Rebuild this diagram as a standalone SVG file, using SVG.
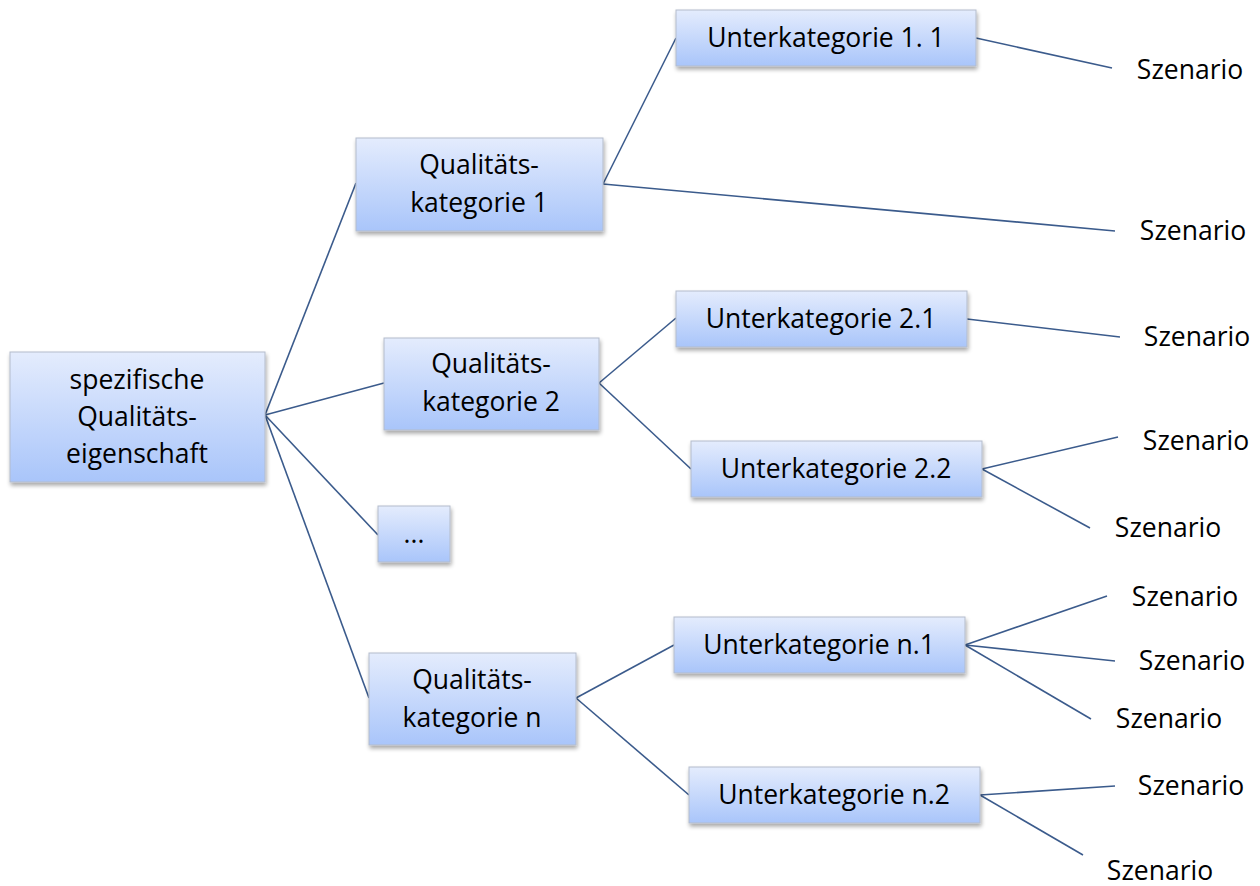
<svg xmlns="http://www.w3.org/2000/svg" width="1260" height="886" viewBox="0 0 1260 886">
<defs>
<linearGradient id="g" x1="0" y1="0" x2="0" y2="1">
<stop offset="0" stop-color="#e4ecfd"/>
<stop offset="1" stop-color="#a9c5fa"/>
</linearGradient>
<filter id="sh" x="-10%" y="-10%" width="130%" height="140%">
<feGaussianBlur in="SourceAlpha" stdDeviation="2"/>
<feOffset dx="1" dy="3"/>
<feComponentTransfer><feFuncA type="linear" slope="0.35"/></feComponentTransfer>
<feMerge><feMergeNode/><feMergeNode in="SourceGraphic"/></feMerge>
</filter>
</defs>
<style>
.box{fill:url(#g);stroke:#b4bccb;stroke-width:1;filter:url(#sh)}
text{font-family:"Open Sans","Liberation Sans",sans-serif;font-size:26.5px;fill:#000;text-anchor:middle}
.c line{stroke:#3b5b8c;stroke-width:1.6}
</style>
<rect width="1260" height="886" fill="#fff"/>
<g class="c" id="connectors">
<line x1="265" y1="415" x2="356" y2="183"/>
<line x1="265" y1="415" x2="384" y2="383"/>
<line x1="265" y1="415" x2="378" y2="535"/>
<line x1="265" y1="415" x2="369" y2="698"/>
<line x1="603" y1="184" x2="676" y2="38"/>
<line x1="603" y1="184" x2="1115" y2="231"/>
<line x1="976" y1="38" x2="1112" y2="68"/>
<line x1="599" y1="383" x2="676" y2="318"/>
<line x1="599" y1="383" x2="691" y2="469"/>
<line x1="967" y1="319" x2="1120" y2="337"/>
<line x1="982" y1="469" x2="1118" y2="437"/>
<line x1="982" y1="469" x2="1090" y2="528"/>
<line x1="576" y1="698" x2="674" y2="645"/>
<line x1="576" y1="698" x2="689" y2="795"/>
<line x1="965" y1="645" x2="1107" y2="596"/>
<line x1="965" y1="645" x2="1115" y2="661"/>
<line x1="965" y1="645" x2="1091" y2="719"/>
<line x1="980" y1="795" x2="1115" y2="786"/>
<line x1="980" y1="795" x2="1083" y2="855"/>
</g>
<g id="root"><rect class="box" x="10" y="352" width="255" height="130"/>
<text x="137" y="389">spezifische</text><text x="137" y="426">Qualitäts-</text><text x="137" y="463">eigenschaft</text></g>
<g id="qk1"><rect class="box" x="356" y="138" width="247" height="93"/>
<text x="479" y="174">Qualitäts-</text><text x="479" y="212">kategorie 1</text></g>
<g id="qk2"><rect class="box" x="384" y="338" width="215" height="92"/>
<text x="491" y="373">Qualitäts-</text><text x="491" y="411">kategorie 2</text></g>
<g id="qkdots"><rect class="box" x="378" y="506" width="72" height="56"/>
<text x="414" y="543">...</text></g>
<g id="qkn"><rect class="box" x="369" y="653" width="207" height="92"/>
<text x="472" y="689">Qualitäts-</text><text x="472" y="727">kategorie n</text></g>
<g id="uk11"><rect class="box" x="676" y="10" width="300" height="56"/>
<text x="826" y="47">Unterkategorie 1. 1</text></g>
<g id="uk21"><rect class="box" x="676" y="291" width="291" height="56"/>
<text x="821" y="328">Unterkategorie 2.1</text></g>
<g id="uk22"><rect class="box" x="691" y="441" width="291" height="56"/>
<text x="836" y="478">Unterkategorie 2.2</text></g>
<g id="ukn1"><rect class="box" x="674" y="617" width="291" height="56"/>
<text x="819" y="654">Unterkategorie n.1</text></g>
<g id="ukn2"><rect class="box" x="689" y="767" width="291" height="56"/>
<text x="834" y="804">Unterkategorie n.2</text></g>
<g id="scenarios">
<text x="1190" y="79">Szenario</text>
<text x="1193" y="240">Szenario</text>
<text x="1197" y="346">Szenario</text>
<text x="1196" y="450">Szenario</text>
<text x="1168" y="537">Szenario</text>
<text x="1185" y="606">Szenario</text>
<text x="1192" y="670">Szenario</text>
<text x="1169" y="728">Szenario</text>
<text x="1191" y="795">Szenario</text>
<text x="1160" y="880">Szenario</text>
</g>
</svg>
